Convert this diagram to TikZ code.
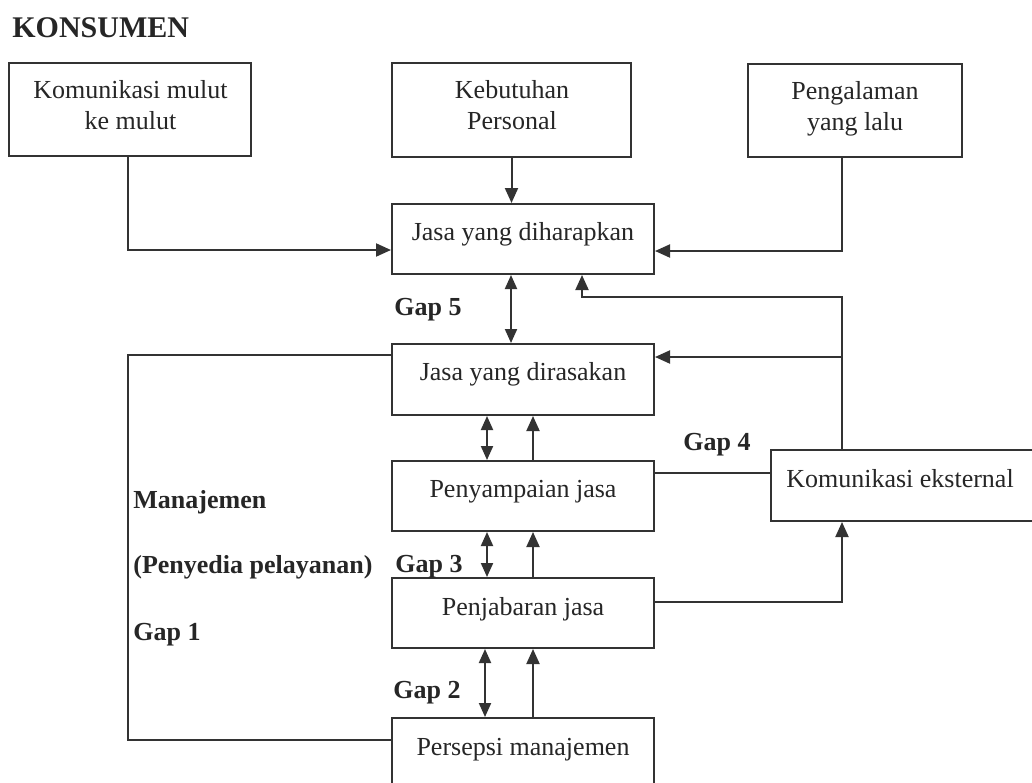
\documentclass[tikz,border=0pt]{standalone}
\usepackage{fontspec}
\setmainfont{Liberation Serif}
\usetikzlibrary{arrows.meta,calc}
\definecolor{linec}{HTML}{333333}
\definecolor{txtc}{HTML}{262626}
\tikzset{
  bx/.style={draw=linec, line width=1pt, fill=white, inner sep=0pt},
  txt/.style={text=txtc, inner sep=0pt, font=\fontsize{13}{15.5}\selectfont, align=center},
  lbl/.style={text=txtc, inner sep=0pt, font=\fontsize{13}{15.5}\selectfont\bfseries, anchor=base west},
  ln/.style={draw=linec, line width=1pt},
  arr/.style={ln, -{Triangle[length=7.5pt,width=6.5pt]}},
  darr/.style={ln, {Triangle[length=7pt,width=6pt]}-{Triangle[length=7pt,width=6pt]}}
}
\begin{document}
\begin{tikzpicture}[x=0.5pt,y=-0.5pt]
\useasboundingbox (0,0) rectangle (1032,782);
\clip (0,0) rectangle (1032,782);
\fill[white] (0,0) rectangle (1032,782);

% boxes
\node[bx, minimum width=121pt, minimum height=46.5pt] (kom) at (130,109.5) {};
\node[bx, minimum width=119.5pt, minimum height=47pt] (keb) at (511.5,110) {};
\node[bx, minimum width=107pt, minimum height=46.5pt] (pen) at (855,110.5) {};
\node[bx, minimum width=131pt, minimum height=35pt] (dih) at (523,239) {};
\node[bx, minimum width=131pt, minimum height=35.5pt] (dir) at (523,379.5) {};
\node[bx, minimum width=131pt, minimum height=35pt] (pny) at (523,496) {};
\node[bx, minimum width=131pt, minimum height=35pt] (pjb) at (523,613) {};
\node[bx, minimum width=131pt, minimum height=40pt] (per) at (523,758) {};
\node[bx, minimum width=137pt, minimum height=35.5pt] (eks) at (908,485.5) {};

% box texts
\node[txt, anchor=north] (tkom) at (130.5,80) {Komunikasi mulut\\ke mulut};
\node[txt, anchor=north] (tkeb) at (512,80) {Kebutuhan\\Personal};
\node[txt, anchor=north] (tpen) at (855,81) {Pengalaman\\yang lalu};
\node[txt, anchor=base] (tdih) at (523,240) {Jasa yang diharapkan};
\node[txt, anchor=base] (tdir) at (523,380) {Jasa yang dirasakan};
\node[txt, anchor=base] (tpny) at (523,497) {Penyampaian jasa};
\node[txt, anchor=base] (tpjb) at (523,615) {Penjabaran jasa};
\node[txt, anchor=base] (tper) at (523,755) {Persepsi manajemen};
\node[txt, anchor=base] (teks) at (900,487) {Komunikasi eksternal};

% labels
\node[lbl, font=\fontsize{15}{18}\selectfont\bfseries] (konsumen) at (12,37) {KONSUMEN};
\node[lbl] (g5) at (394,315) {Gap 5};
\node[lbl] (man) at (133,508) {Manajemen};
\node[lbl] (peny) at (133,573) {(Penyedia pelayanan)};
\node[lbl] (g3) at (395,572) {Gap 3};
\node[lbl] (g1) at (133,640) {Gap 1};
\node[lbl] (g2) at (393,698) {Gap 2};
\node[lbl] (g4) at (683,450) {Gap 4};

% coordinates
\coordinate (c1) at (582,297);
\coordinate (j1) at (842,357);
\coordinate (lt) at (128,355);
\coordinate (lb) at (128,740);

% connectors
\draw[arr] ([xshift=-1pt]kom.south) |- ([yshift=-5.5pt]dih.west);
\draw[arr] (keb.south) -- (keb.south |- dih.north);
\draw[arr] ([xshift=-6.5pt]pen.south) |- ([yshift=-6pt]dih.east);
\draw[arr] ([xshift=-33pt]eks.north) |- (c1) -- (c1 |- dih.south);
\draw[arr] (j1) -- (dir.east |- j1);
\draw[darr] ([xshift=-6pt]dih.south) -- ([xshift=-6pt]dir.north);
\draw[ln] (dir.west |- lt) -- (lt) -- (lb) -- (per.west |- lb);
\draw[darr] ([xshift=-18pt]dir.south) -- ([xshift=-18pt]pny.north);
\draw[arr] ([xshift=5pt]pny.north) -- ([xshift=5pt]dir.south);
\draw[darr] ([xshift=-18pt]pny.south) -- ([xshift=-18pt]pjb.north);
\draw[arr] ([xshift=5pt]pjb.north) -- ([xshift=5pt]pny.south);
\draw[darr] ([xshift=-19pt]pjb.south) -- ([xshift=-19pt]per.north);
\draw[arr] ([xshift=5pt]per.north) -- ([xshift=5pt]pjb.south);
\draw[ln] ([yshift=11.5pt]pny.east) -- ([yshift=11.5pt]pny.east -| eks.west);
\draw[arr] ([yshift=5.5pt]pjb.east) -| ([xshift=-33pt]eks.south);
\end{tikzpicture}
\end{document}
